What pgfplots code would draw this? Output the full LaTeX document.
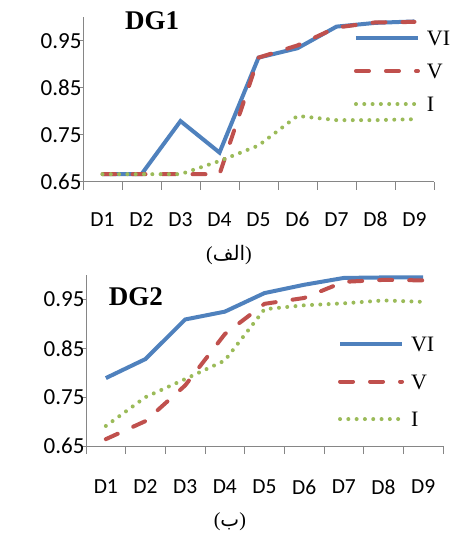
\documentclass[border=0pt]{standalone}
\usepackage{fontspec}
\usepackage{pgfplots}
\pgfplotsset{compat=1.18}
\setmainfont{Liberation Serif}
\setsansfont{Carlito}
\newfontfamily\arabicfont[Script=Arabic]{DejaVu Sans}
\TeXXeTstate=1
\definecolor{exblue}{HTML}{4F81BD}
\definecolor{exred}{HTML}{C0504D}
\definecolor{exgreen}{HTML}{9BBB59}
\definecolor{axgray}{HTML}{868686}
\tikzset{ttl/.style={anchor=center, inner sep=0pt, font=\bfseries\fontsize{27}{30}\selectfont}}
\pgfplotsset{
  mychart/.style={
    scale only axis,
    clip mode=individual,
    xmin=0.5, xmax=9.5, ymin=0.65, ymax=1.0,
    axis x line*=bottom, axis y line*=left,
    axis line style={draw=axgray, line width=0.8pt, -},
    tick style={draw=axgray, line width=0.8pt},
    tick align=outside,
    xtick={1,...,9},
    xticklabels={D1,D2,D3,D4,D5,D6,D7,D8,D9},
    major x tick style={draw=none},
    minor xtick={0.5,1.5,...,9.5},
    minor tick length=8pt,
    major tick length=5pt,
    ytick={0.65,0.75,0.85,0.95},
    yticklabel style={/pgf/number format/fixed, /pgf/number format/fixed zerofill, /pgf/number format/precision=2, /pgf/number format/assume math mode=true},
    yticklabel style={font=\sffamily\fontsize{23}{26}\selectfont, xshift=7pt},
    legend cell align=left,
    legend image code/.code={\draw[##1] (0pt,0pt) -- (62pt,0pt);},
    no markers,
    xlabel style={anchor=center, font=\fontsize{20}{24}\selectfont},
  },
  sVI/.style={exblue, line width=4pt, solid},
  sV/.style={exred, line width=4pt, line cap=round, dash pattern=on 13pt off 17pt},
  sI/.style={exgreen, line width=4pt, line cap=round, dash pattern=on 0pt off 8.3pt},
}
\begin{document}
\begin{tikzpicture}
\useasboundingbox (0,0) rectangle (450pt,-535pt);
\begin{axis}[mychart,
  at={(83pt,-181.7pt)}, anchor=south west,
  width=351pt, height=164.5pt,
  xticklabel style={font=\sffamily\fontsize{21.5}{24}\selectfont, yshift=-22pt},
  xlabel={({\arabicfont\beginR الف\endR})},
  xlabel style={at={(axis description cs:0.416,-0.446)}},
  legend style={draw=none, fill=none, inner sep=0pt, outer sep=0pt,
    at={(axis description cs:0.772,0.919)}, anchor=north west,
    nodes={inner sep=0pt, text height=15pt, text depth=0pt, font=\fontsize{22}{26}\selectfont},
    row sep=18pt, /tikz/every even column/.append style={column sep=0pt},
    /tikz/every odd column/.append style={column sep=7pt}},
]
\addplot[sVI] coordinates {(1,0.666)(2,0.666)(3,0.779)(4,0.712)(5,0.914)(6,0.934)(7,0.980)(8,0.988)(9,0.991)};
\addplot[sV] coordinates {(1,0.666)(2,0.666)(3,0.666)(4,0.666)(5,0.914)(6,0.940)(7,0.978)(8,0.989)(9,0.990)};
\addplot[sI] coordinates {(1,0.666)(2,0.666)(3,0.666)(4,0.694)(5,0.727)(6,0.790)(7,0.781)(8,0.781)(9,0.783)};
\legend{VI,V,I}
\node[ttl] at (rel axis cs:0.197,0.980) {DG1};
\end{axis}
\begin{axis}[mychart,
  at={(86pt,-446pt)}, anchor=south west,
  width=357pt, height=171pt,
  xticklabel style={font=\sffamily\fontsize{21.5}{24}\selectfont, yshift=-25pt},
  xlabel={({\arabicfont\beginR ب\endR})},
  xlabel style={at={(axis description cs:0.403,-0.444)}},
  legend style={draw=none, fill=none, inner sep=0pt, outer sep=0pt,
    at={(axis description cs:0.706,0.640)}, anchor=north west,
    nodes={inner sep=0pt, text height=15pt, text depth=0pt, font=\fontsize{22}{26}\selectfont},
    row sep=22.5pt, /tikz/every even column/.append style={column sep=0pt},
    /tikz/every odd column/.append style={column sep=7pt}},
]
\addplot[sVI] coordinates {(1,0.789)(2,0.828)(3,0.909)(4,0.925)(5,0.963)(6,0.980)(7,0.994)(8,0.995)(9,0.995)};
\addplot[sV] coordinates {(1,0.664)(2,0.701)(3,0.774)(4,0.879)(5,0.941)(6,0.953)(7,0.986)(8,0.990)(9,0.989)};
\addplot[sI] coordinates {(1,0.691)(2,0.750)(3,0.787)(4,0.825)(5,0.930)(6,0.938)(7,0.942)(8,0.948)(9,0.945)};
\legend{VI,V,I}
\node[ttl] at (rel axis cs:0.140,0.871) {DG2};
\end{axis}
\end{tikzpicture}
\end{document}
